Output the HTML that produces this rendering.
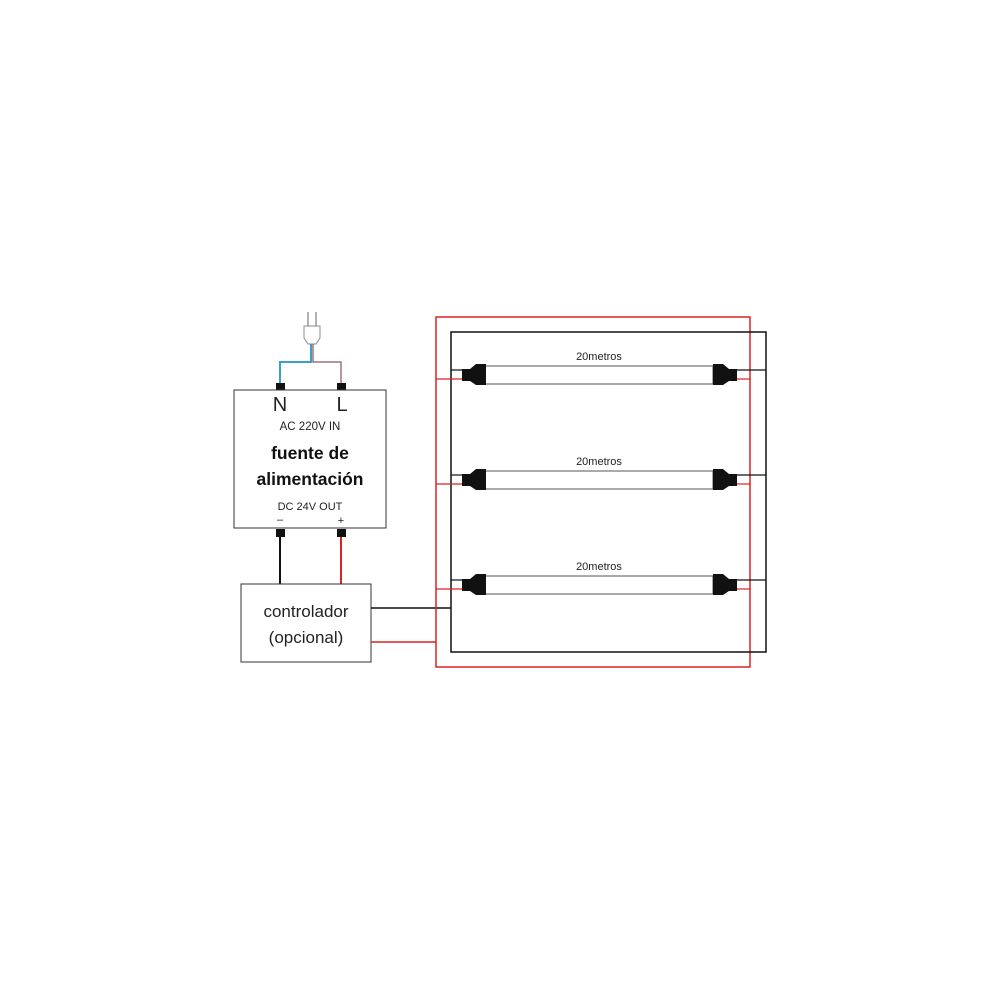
<!DOCTYPE html>
<html><head><style>body{margin:0;background:#fff}svg{display:block}</style></head><body>
<svg width="1000" height="1000" xmlns="http://www.w3.org/2000/svg" font-family="Liberation Sans, sans-serif">
<rect width="1000" height="1000" fill="#fff"/>
<line x1="308" y1="312" x2="308" y2="326" stroke="#999" stroke-width="1.5"/>
<line x1="316" y1="312" x2="316" y2="326" stroke="#999" stroke-width="1.5"/>
<path d="M304 326 H320 V338 L316 344 H308 L304 338 Z" fill="#fff" stroke="#888" stroke-width="1"/>
<path d="M311 344 V362 H280 V384" fill="none" stroke="#3aa0c8" stroke-width="2"/>
<path d="M313 344 V362 H341 V384" fill="none" stroke="#a07080" stroke-width="1.5"/>
<rect x="276" y="383" width="9" height="8" fill="#111"/>
<rect x="337" y="383" width="9" height="8" fill="#111"/>
<rect x="234" y="390" width="152" height="138" fill="#fff" stroke="#333" stroke-width="1"/>
<text x="280" y="411" font-size="20" text-anchor="middle" fill="#222">N</text>
<text x="342" y="411" font-size="20" text-anchor="middle" fill="#222">L</text>
<text x="310" y="430" font-size="11.5" text-anchor="middle" fill="#222">AC 220V IN</text>
<text x="310" y="459" font-size="17.5" font-weight="bold" text-anchor="middle" fill="#111">fuente de</text>
<text x="310" y="485" font-size="17.5" font-weight="bold" text-anchor="middle" fill="#111">alimentación</text>
<text x="310" y="510" font-size="11" text-anchor="middle" fill="#222">DC 24V OUT</text>
<text x="280" y="523" font-size="11" text-anchor="middle" fill="#222">–</text>
<text x="341" y="524" font-size="11" text-anchor="middle" fill="#222">+</text>
<rect x="276" y="529" width="9" height="8" fill="#111"/>
<rect x="337" y="529" width="9" height="8" fill="#111"/>
<line x1="280" y1="537" x2="280" y2="584" stroke="#111" stroke-width="2"/>
<line x1="341" y1="537" x2="341" y2="584" stroke="#d22" stroke-width="2"/>
<rect x="241" y="584" width="130" height="78" fill="#fff" stroke="#333" stroke-width="1"/>
<text x="306" y="617" font-size="17" text-anchor="middle" fill="#222">controlador</text>
<text x="306" y="643" font-size="17" text-anchor="middle" fill="#222">(opcional)</text>
<line x1="371" y1="608" x2="451" y2="608" stroke="#111" stroke-width="1.5"/>
<line x1="371" y1="642" x2="436" y2="642" stroke="#d22" stroke-width="1.5"/>
<rect x="436" y="317" width="314" height="350" fill="none" stroke="#d22" stroke-width="1.5"/>
<rect x="451" y="332" width="315" height="320" fill="none" stroke="#111" stroke-width="1.5"/>
<g id="s1">
<line x1="451" y1="370" x2="463" y2="370" stroke="#111" stroke-width="1.2"/>
<line x1="436" y1="379" x2="463" y2="379" stroke="#d22" stroke-width="1.2"/>
<rect x="485" y="366" width="228" height="18" fill="#fff" stroke="#555" stroke-width="1"/>
<path d="M462 369 H470 L476 364 H486 V385 H476 L470 381 H462 Z" fill="#111"/>
<path d="M737 369 H729 L723 364 H713 V385 H723 L729 381 H737 Z" fill="#111"/>
<line x1="737" y1="370" x2="766" y2="370" stroke="#111" stroke-width="1.2"/>
<line x1="737" y1="379" x2="750" y2="379" stroke="#d22" stroke-width="1.2"/>
<text x="599" y="360" font-size="11" text-anchor="middle" fill="#222">20metros</text>
</g>
<use href="#s1" y="105"/>
<use href="#s1" y="210"/>
</svg>
</body></html>
